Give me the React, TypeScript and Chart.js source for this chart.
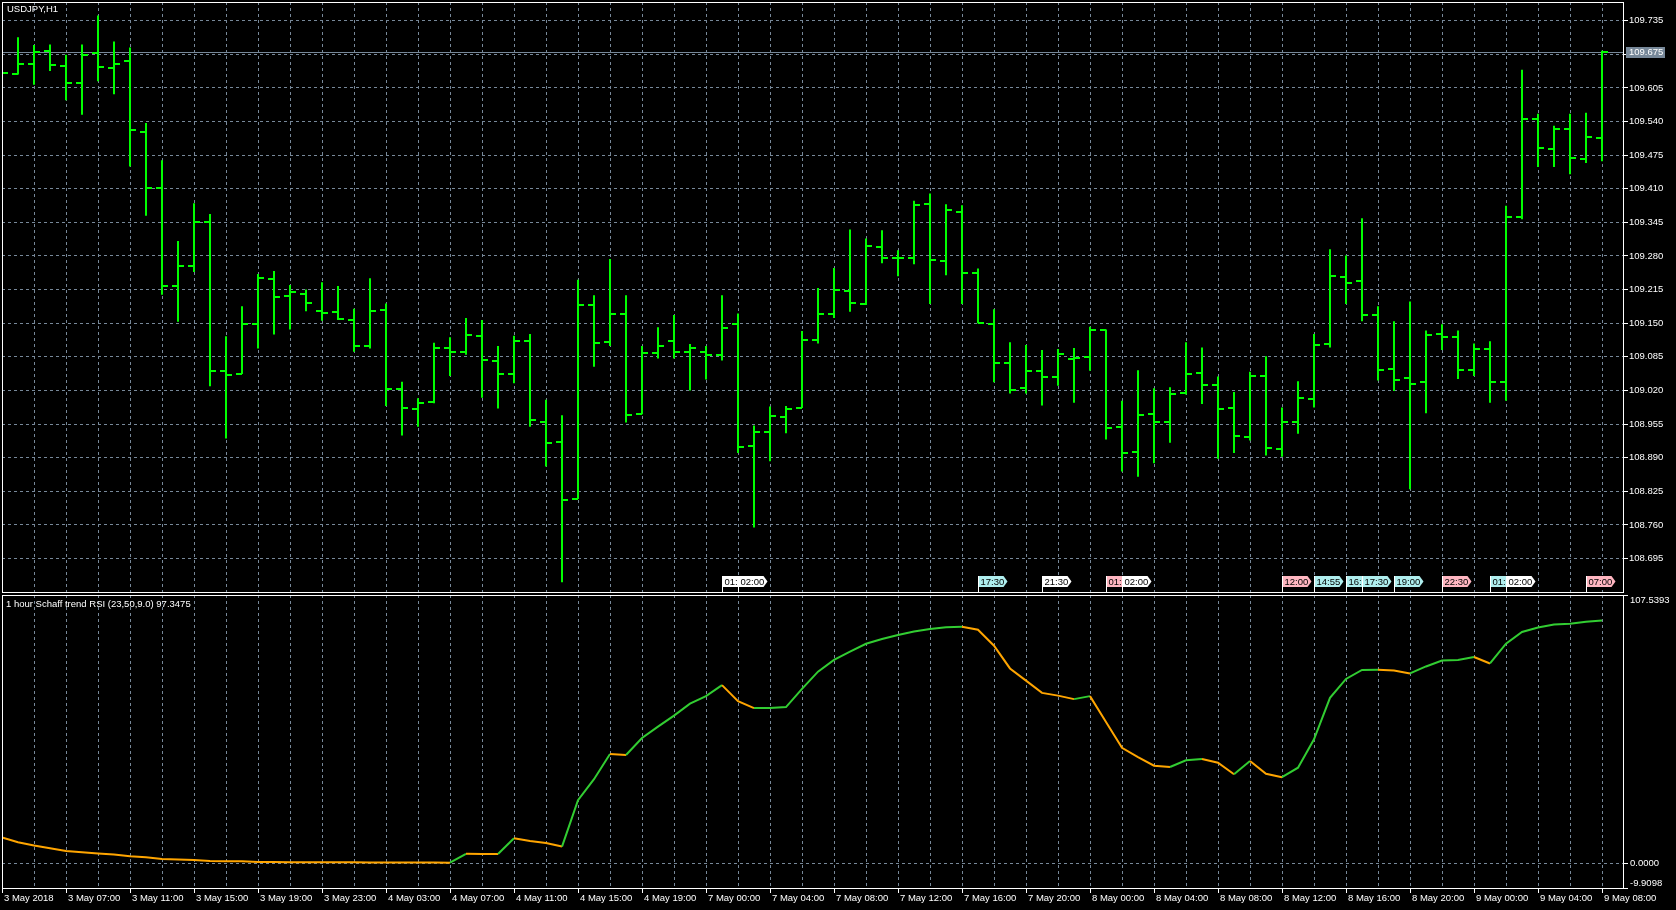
import React, { useEffect, useRef } from "react";
import { Chart, registerables } from "chart.js";

Chart.register(...registerables);

// ---------------- data ----------------
const symbolTitle = "USDJPY,H1";
const indicatorTitle = "1 hour Schaff trend RSI (23,50,9.0) 97.3475";

const openPrices = [
  109.634, 109.632, 109.651, 109.677, 109.647, 109.615, 109.672, 109.643, 109.657, 109.520,
  109.411, 109.222, 109.260, 109.346, 109.058, 109.052, 109.149, 109.235, 109.203, 109.207,
  109.174, 109.172, 109.157, 109.106, 109.176, 109.022, 108.985, 108.997, 109.102, 109.095,
  109.126, 109.076, 109.051, 109.115, 108.958, 108.921, 108.811, 109.185, 109.113, 109.167,
  108.975, 109.093, 109.115, 109.095, 109.095, 109.089, 109.149, 108.912, 108.939, 108.969,
  108.987, 109.118, 109.168, 109.212, 109.187, 109.297, 109.277, 109.277, 109.380, 109.270,
  109.365, 109.247, 109.149, 109.073, 109.024, 109.058, 109.046, 109.081, 109.085, 109.137,
  108.950, 108.901, 108.975, 108.959, 109.015, 109.054, 109.030, 108.986, 108.930, 109.048,
  108.907, 108.959, 109.004, 109.110, 109.239, 109.232, 109.166, 109.062, 109.044, 109.037,
  109.129, 109.124, 109.060, 109.100, 109.037, 109.355, 109.545, 109.487, 109.525, 109.467,
  109.508,
];
const highPrices = [
  109.637, 109.703, 109.688, 109.689, 109.669, 109.689, 109.745, 109.695, 109.683, 109.537,
  109.465, 109.309, 109.382, 109.361, 109.125, 109.183, 109.245, 109.251, 109.224, 109.215,
  109.229, 109.222, 109.178, 109.237, 109.188, 109.037, 109.005, 109.112, 109.123, 109.160,
  109.156, 109.106, 109.126, 109.129, 109.002, 108.972, 109.234, 109.204, 109.274, 109.204,
  109.106, 109.142, 109.166, 109.110, 109.106, 109.204, 109.169, 108.952, 108.989, 108.990,
  109.135, 109.218, 109.257, 109.331, 109.314, 109.330, 109.291, 109.387, 109.401, 109.380,
  109.378, 109.256, 109.177, 109.113, 109.108, 109.098, 109.100, 109.102, 109.143, 109.138,
  109.000, 109.059, 109.024, 109.026, 109.113, 109.103, 109.047, 109.017, 109.056, 109.086,
  108.987, 109.038, 109.129, 109.293, 109.281, 109.353, 109.183, 109.154, 109.192, 109.136,
  109.148, 109.136, 109.111, 109.115, 109.377, 109.640, 109.555, 109.532, 109.555, 109.557,
  109.677,
];
const lowPrices = [
  109.630, 109.631, 109.611, 109.638, 109.581, 109.553, 109.618, 109.593, 109.453, 109.358,
  109.205, 109.153, 109.249, 109.028, 108.927, 109.052, 109.101, 109.128, 109.138, 109.173,
  109.155, 109.156, 109.095, 109.101, 108.990, 108.933, 108.950, 108.995, 109.048, 109.089,
  109.006, 108.985, 109.034, 108.950, 108.873, 108.649, 108.810, 109.066, 109.106, 108.958,
  108.974, 109.082, 109.082, 109.020, 109.041, 109.078, 108.899, 108.755, 108.883, 108.937,
  108.986, 109.111, 109.160, 109.172, 109.185, 109.266, 109.241, 109.264, 109.187, 109.243,
  109.187, 109.150, 109.036, 109.014, 109.014, 108.991, 109.029, 108.996, 109.058, 108.925,
  108.863, 108.853, 108.879, 108.919, 109.012, 108.994, 108.888, 108.899, 108.923, 108.894,
  108.892, 108.936, 108.987, 109.103, 109.187, 109.154, 109.039, 109.019, 108.829, 108.976,
  109.098, 109.042, 109.048, 108.996, 109.000, 109.351, 109.452, 109.452, 109.438, 109.460,
  109.463,
];
const closePrices = [
  109.634, 109.651, 109.674, 109.649, 109.615, 109.669, 109.645, 109.651, 109.524, 109.411,
  109.222, 109.260, 109.346, 109.058, 109.050, 109.149, 109.238, 109.201, 109.211, 109.190,
  109.170, 109.159, 109.106, 109.174, 109.022, 108.986, 108.996, 109.102, 109.095, 109.128,
  109.078, 109.051, 109.115, 108.962, 108.919, 108.809, 109.185, 109.111, 109.168, 108.973,
  109.093, 109.106, 109.095, 109.102, 109.089, 109.141, 108.910, 108.939, 108.971, 108.984,
  109.118, 109.168, 109.214, 109.189, 109.299, 109.277, 109.277, 109.378, 109.272, 109.369,
  109.247, 109.150, 109.073, 109.021, 109.058, 109.046, 109.091, 109.083, 109.137, 108.948,
  108.899, 108.972, 108.959, 109.013, 109.052, 109.030, 108.984, 108.932, 109.048, 108.909,
  108.959, 109.006, 109.108, 109.241, 109.228, 109.166, 109.060, 109.041, 109.033, 109.127,
  109.124, 109.060, 109.100, 109.037, 109.355, 109.545, 109.489, 109.525, 109.469, 109.510,
  109.675,
];

const stcValues = [
  10.4, 8.4, 7.1, 6.0, 4.9, 4.4, 3.9, 3.5, 2.8, 2.4,
  1.7, 1.5, 1.3, 0.9, 0.85, 0.8, 0.5, 0.48, 0.46, 0.44,
  0.42, 0.4, 0.38, 0.36, 0.34, 0.32, 0.3, 0.28, 0.26, 3.8,
  3.75, 3.7, 10.0, 8.9, 8.1, 6.7, 25.3, 33.7, 43.8, 43.4,
  50.2, 54.8, 59.2, 64.0, 67.0, 71.4, 65.0, 62.2, 62.25, 62.6,
  69.9, 76.8, 81.5, 84.8, 88.0, 89.9, 91.5, 92.9, 93.9, 94.6,
  94.8, 93.6, 87.2, 78.1, 73.2, 68.3, 67.2, 65.8, 67.0, 56.6,
  46.3, 42.6, 39.1, 38.6, 41.3, 41.8, 40.3, 35.7, 41.0, 35.9,
  34.5, 38.3, 49.7, 66.3, 73.9, 77.5, 77.6, 77.3, 76.1, 78.9,
  81.3, 81.5, 82.7, 80.1, 88.0, 92.7, 94.5, 95.7, 96.0, 96.8,
  97.3475,
];

// one label every 4 bars, starting at bar 0
const timeLabels = [
  "3 May 2018", "3 May 07:00", "3 May 11:00", "3 May 15:00", "3 May 19:00", "3 May 23:00",
  "4 May 03:00", "4 May 07:00", "4 May 11:00", "4 May 15:00", "4 May 19:00",
  "7 May 00:00", "7 May 04:00", "7 May 08:00", "7 May 12:00", "7 May 16:00", "7 May 20:00",
  "8 May 00:00", "8 May 04:00", "8 May 08:00", "8 May 12:00", "8 May 16:00", "8 May 20:00",
  "9 May 00:00", "9 May 04:00", "9 May 08:00",
];

const priceTickValues = [
  109.735, 109.67, 109.605, 109.54, 109.475, 109.41, 109.345, 109.28, 109.215,
  109.15, 109.085, 109.02, 108.955, 108.89, 108.825, 108.76, 108.695,
];
const stcTickValues = [107.5393, 0, -9.9098];
const currentPrice = 109.675;

const eventBars = [45, 46, 61, 65, 69, 70, 80, 82, 84, 85, 87, 90, 93, 94, 99];
const eventTexts = [
  "01:00", "02:00", "17:30", "21:30", "01:00", "02:00", "12:00", "14:55",
  "16:00", "17:30", "19:00", "22:30", "01:00", "02:00", "07:00",
];
const eventKinds = [
  "plain", "plain", "cyan", "plain", "pink", "plain", "pink", "cyan",
  "cyan", "cyan", "cyan", "pink", "cyan", "plain", "pink",
];

// ---------------- layout / style ----------------
const PAGE_W = 1676;
const TOP_H = 594;
const BOT_H = 316;
const AXIS_W = 53;
const X_MAX = 101.3125;
const PRICE_MIN = 108.6302;
const PRICE_MAX = 109.7712;
const STC_MIN = -9.9098;
const STC_MAX = 107.5393;

const GRID = "#778899";
const BAR_GREEN = "#00ff00";
const STC_UP = "#32cd32";
const STC_DOWN = "#ffa500";
const FONT = "'Liberation Sans', Arial, sans-serif";
const FONT_SIZE = 9.5;
const EVENT_COLORS: Record<string, string> = { plain: "#ffffff", cyan: "#afeeee", pink: "#ffb6c1" };

const gridBars = Array.from({ length: 51 }, (_, i) => i * 2);

function tickImage(side: "left" | "right") {
  const c = document.createElement("canvas");
  c.width = 12;
  c.height = 2;
  const g = c.getContext("2d")!;
  g.fillStyle = BAR_GREEN;
  g.fillRect(side === "left" ? 0 : 6, 0, 6, 2);
  return c;
}

function drawFrame(ctx: CanvasRenderingContext2D, a: any) {
  ctx.save();
  ctx.strokeStyle = "#ffffff";
  ctx.lineWidth = 1;
  ctx.strokeRect(a.left + 0.5, a.top + 0.5, a.right - a.left, a.bottom - a.top);
  ctx.restore();
}

const topPlugin = {
  id: "mt4Top",
  beforeDraw(chart: any) {
    const ctx = chart.ctx;
    ctx.save();
    ctx.fillStyle = "#000";
    ctx.fillRect(0, 0, chart.width, chart.height);
    ctx.restore();
  },
  beforeDatasetsDraw(chart: any) {
    const { ctx, chartArea: a, scales } = chart;
    const y = Math.round(scales.y.getPixelForValue(currentPrice)) + 0.5;
    ctx.save();
    ctx.strokeStyle = GRID;
    ctx.lineWidth = 1;
    ctx.beginPath();
    ctx.moveTo(a.left, y);
    ctx.lineTo(a.right, y);
    ctx.stroke();
    ctx.restore();
  },
  afterDraw(chart: any) {
    const { ctx, chartArea: a, scales } = chart;
    drawFrame(ctx, a);
    ctx.save();
    ctx.font = `${FONT_SIZE}px ${FONT}`;
    ctx.textBaseline = "middle";
    ctx.textAlign = "left";
    ctx.fillStyle = "#ffffff";
    ctx.fillText(symbolTitle, a.left + 5, a.top + 7);

    // current price label on the axis
    const py = Math.round(scales.y.getPixelForValue(currentPrice));
    ctx.fillStyle = GRID;
    ctx.fillRect(a.right + 3, py - 5, 39, 11);
    ctx.fillStyle = "#ffffff";
    ctx.fillText(currentPrice.toFixed(3), a.right + 6, py + 0.5);

    // event flags along the bottom of the price pane
    const boxTop = a.bottom - 16;
    const boxBot = a.bottom - 5;
    eventBars.forEach((b, i) => {
      const x = Math.round(scales.x.getPixelForValue(b)) + 0.5;
      ctx.fillStyle = EVENT_COLORS[eventKinds[i]];
      ctx.beginPath();
      ctx.moveTo(x, boxTop);
      ctx.lineTo(x + 25, boxTop);
      ctx.lineTo(x + 29, (boxTop + boxBot) / 2);
      ctx.lineTo(x + 25, boxBot);
      ctx.lineTo(x, boxBot);
      ctx.closePath();
      ctx.fill();
      ctx.strokeStyle = "#ffffff";
      ctx.lineWidth = 1;
      ctx.beginPath();
      ctx.moveTo(x, boxTop);
      ctx.lineTo(x, a.bottom);
      ctx.stroke();
      ctx.fillStyle = "#000000";
      ctx.fillText(eventTexts[i], x + 2, (boxTop + boxBot) / 2 + 0.5);
    });
    ctx.restore();
  },
};

const bottomPlugin = {
  id: "mt4Bottom",
  beforeDraw(chart: any) {
    const ctx = chart.ctx;
    ctx.save();
    ctx.fillStyle = "#000";
    ctx.fillRect(0, 0, chart.width, chart.height);
    ctx.restore();
  },
  afterDraw(chart: any) {
    const { ctx, chartArea: a, scales } = chart;
    drawFrame(ctx, a);
    ctx.save();
    ctx.font = `${FONT_SIZE}px ${FONT}`;
    ctx.textBaseline = "middle";
    ctx.textAlign = "left";
    ctx.fillStyle = "#ffffff";
    ctx.fillText(indicatorTitle, a.left + 4, a.top + 9);
    stcTickValues.forEach((v) => {
      let y = scales.y.getPixelForValue(v);
      y = Math.min(Math.max(y, a.top + 5), a.bottom - 5);
      ctx.fillText(v.toFixed(4), a.right + 7, y);
    });
    ctx.restore();
  },
};

function buildTop(canvas: HTMLCanvasElement) {
  const idx = openPrices.map((_, i) => i);
  const openImg = tickImage("left");
  const closeImg = tickImage("right");
  return new Chart(canvas, {
    type: "bar",
    data: {
      datasets: [
        {
          type: "bar",
          data: idx.map((i) => ({ x: i, y: [lowPrices[i], highPrices[i]] })),
          backgroundColor: BAR_GREEN,
          borderWidth: 0,
          barThickness: 2,
          inflateAmount: 0,
          clip: 0,
          order: 2,
        } as any,
        {
          type: "scatter",
          data: idx.map((i) => ({ x: i, y: openPrices[i] })),
          pointStyle: openImg,
          pointRadius: 3,
          clip: 0,
          order: 1,
        } as any,
        {
          type: "scatter",
          data: idx.map((i) => ({ x: i, y: closePrices[i] })),
          pointStyle: closeImg,
          pointRadius: 3,
          clip: 0,
          order: 1,
        } as any,
      ],
    },
    options: {
      responsive: false,
      animation: false,
      events: [],
      layout: { padding: { left: 2, top: 2, right: 0, bottom: 2 }, autoPadding: false },
      plugins: { legend: { display: false }, tooltip: { enabled: false } },
      scales: {
        x: {
          type: "linear",
          min: 0,
          max: X_MAX,
          offset: false,
          bounds: "data",
          ticks: { display: false },
          grid: { color: GRID, drawTicks: false, offset: false, lineWidth: 1 },
          border: { display: false, dash: [3, 3] },
          afterBuildTicks: (s: any) => {
            s.ticks = gridBars.map((v) => ({ value: v }));
          },
          afterFit: (s: any) => {
            s.height = 0;
            s.paddingLeft = 0;
            s.paddingRight = 0;
          },
        },
        y: {
          type: "linear",
          position: "right",
          min: PRICE_MIN,
          max: PRICE_MAX,
          bounds: "data",
          ticks: {
            color: "#ffffff",
            font: { family: FONT, size: FONT_SIZE },
            padding: 1,
            callback: (v: any) => Number(v).toFixed(3),
          },
          grid: { color: GRID, tickColor: "#ffffff", tickLength: 5, drawTicks: true, lineWidth: 1 },
          border: { display: false, dash: [3, 3] },
          afterBuildTicks: (s: any) => {
            s.ticks = priceTickValues.map((v) => ({ value: v }));
          },
          afterFit: (s: any) => {
            s.width = AXIS_W;
            s.paddingTop = 0;
            s.paddingBottom = 0;
          },
        },
      },
    } as any,
    plugins: [topPlugin],
  });
}

function buildBottom(canvas: HTMLCanvasElement) {
  return new Chart(canvas, {
    type: "line",
    data: {
      datasets: [
        {
          data: stcValues.map((v, i) => ({ x: i, y: v })),
          borderColor: STC_UP,
          borderWidth: 2,
          pointRadius: 0,
          tension: 0,
          segment: {
            borderColor: (c: any) => (c.p1.parsed.y > c.p0.parsed.y ? STC_UP : STC_DOWN),
          },
        } as any,
      ],
    },
    options: {
      responsive: false,
      animation: false,
      events: [],
      layout: { padding: { left: 2, top: 1, right: 0, bottom: 0 }, autoPadding: false },
      plugins: { legend: { display: false }, tooltip: { enabled: false } },
      scales: {
        x: {
          type: "linear",
          min: 0,
          max: X_MAX,
          offset: false,
          bounds: "data",
          ticks: {
            color: "#ffffff",
            font: { family: FONT, size: FONT_SIZE },
            padding: 0,
            align: "start",
            labelOffset: 2,
            maxRotation: 0,
            minRotation: 0,
            autoSkip: false,
            callback: (v: any) => {
              const n = Math.round(Number(v));
              return n % 4 === 0 ? timeLabels[n / 4] ?? "" : "";
            },
          },
          grid: {
            color: GRID,
            offset: false,
            tickLength: 5,
            tickColor: (c: any) => (c.tick && Math.round(c.tick.value) % 4 === 0 ? "#ffffff" : "rgba(0,0,0,0)"),
          },
          border: { display: false, dash: [3, 3] },
          afterBuildTicks: (s: any) => {
            s.ticks = gridBars.map((v) => ({ value: v }));
          },
          afterFit: (s: any) => {
            s.height = 22;
            s.paddingLeft = 0;
            s.paddingRight = 0;
          },
        },
        y: {
          type: "linear",
          position: "right",
          min: STC_MIN,
          max: STC_MAX,
          bounds: "data",
          ticks: { display: false },
          grid: {
            color: (c: any) => (c.tick && c.tick.value === 0 ? GRID : "rgba(0,0,0,0)"),
            tickColor: "#ffffff",
            tickLength: 5,
          },
          border: { display: false, dash: [3, 3] },
          afterBuildTicks: (s: any) => {
            s.ticks = stcTickValues.map((v) => ({ value: v }));
          },
          afterFit: (s: any) => {
            s.width = AXIS_W;
            s.paddingTop = 0;
            s.paddingBottom = 0;
          },
        },
      },
    } as any,
    plugins: [bottomPlugin],
  });
}

export default function App() {
  const topRef = useRef<HTMLCanvasElement>(null);
  const botRef = useRef<HTMLCanvasElement>(null);

  useEffect(() => {
    const top = buildTop(topRef.current!);
    const bot = buildBottom(botRef.current!);
    return () => {
      top.destroy();
      bot.destroy();
    };
  }, []);

  return (
    <div style={{ position: "relative", width: PAGE_W, height: TOP_H + BOT_H, background: "#000", overflow: "hidden" }}>
      <style>{`html,body{margin:0;padding:0;background:#000;}`}</style>
      <canvas ref={topRef} width={PAGE_W} height={TOP_H} style={{ position: "absolute", left: 0, top: 0 }} />
      <canvas ref={botRef} width={PAGE_W} height={BOT_H} style={{ position: "absolute", left: 0, top: TOP_H }} />
    </div>
  );
}
